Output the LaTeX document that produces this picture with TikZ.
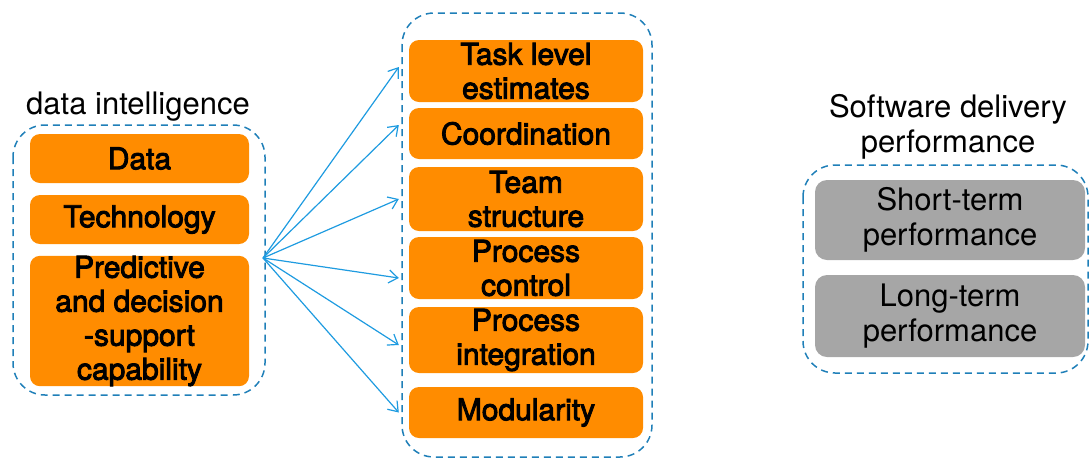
\documentclass[tikz,border=0pt]{standalone}
\usepackage{fontspec}
\setmainfont{TeX Gyre Heros}
\newfontfamily\heavyfont[FakeBold=3]{TeX Gyre Heros}
\usetikzlibrary{arrows.meta}
\definecolor{boxorange}{HTML}{FF8C00}
\definecolor{boxgray}{HTML}{A6A6A6}
\definecolor{groupblue}{HTML}{1F7FB8}
\definecolor{arrowblue}{HTML}{1E9BE0}
\tikzset{
  obox/.style={fill=boxorange, rounded corners=10pt, inner sep=0pt, align=center,
    font=\fontsize{30}{34}\selectfont\heavyfont},
  gbox/.style={fill=boxgray, rounded corners=12pt, inner sep=0pt, align=center,
    font=\fontsize{31}{35}\selectfont},
  group/.style={draw=groupblue, line width=1.5pt, dash pattern=on 7pt off 5pt,
    rounded corners=32pt},
  grouplabel/.style={align=center, font=\fontsize{31}{35}\selectfont},
  link/.style={draw=arrowblue, line width=1.2pt,
    -{Straight Barb[length=9pt,width=13pt,line width=1.2pt]}}
}
\begin{document}
\begin{tikzpicture}[x=1pt,y=-1pt]
\useasboundingbox (0,0) rectangle (1090,459);

% group frames
\draw[group] (13,125) rectangle (265,395);
\draw[group] (402,13) rectangle (652,457);
\draw[group] (803,165) rectangle (1088,373);

% group titles
\node[grouplabel] (ltitle) at (138,107) {data intelligence};
\node[grouplabel] (rtitle) at (948,127) {Software delivery\\performance};

% data intelligence
\node[obox, minimum width=219pt, minimum height=49pt] (data) at (139.5,158.5) {Data};
\node[obox, minimum width=219pt, minimum height=49pt] (tech) at (139.5,219.5) {Technology};
\node[obox, minimum width=219pt, minimum height=130pt] (pred) at (139.5,321)
  {Predictive\\and decision\\-support\\capability};

% coordination mechanisms
\node[obox, minimum width=234pt, minimum height=62pt] (task) at (526,71) {Task level\\estimates};
\node[obox, minimum width=234pt, minimum height=51pt] (coord) at (526,133.5) {Coordination};
\node[obox, minimum width=234pt, minimum height=64pt] (team) at (526,199) {Team\\structure};
\node[obox, minimum width=234pt, minimum height=62pt] (pctl) at (526,268) {Process\\control};
\node[obox, minimum width=234pt, minimum height=66pt] (pint) at (526,340) {Process\\integration};
\node[obox, minimum width=234pt, minimum height=51pt] (modu) at (526,412.5) {Modularity};

% delivery performance
\node[gbox, minimum width=270pt, minimum height=80pt] (short) at (950,220) {Short-term\\performance};
\node[gbox, minimum width=270pt, minimum height=82pt] (long) at (950,316) {Long-term\\performance};

% links
\coordinate (src) at (263,258);
\draw[link] (src) -- ([xshift=-10pt,yshift=4pt]task.west);
\draw[link] (src) -- ([xshift=-10pt,yshift=8.5pt]coord.west);
\draw[link] (src) -- ([xshift=-10pt]team.west);
\draw[link] (src) -- ([xshift=-10pt,yshift=-10pt]pctl.west);
\draw[link] (src) -- ([xshift=-10pt,yshift=-5pt]pint.west);
\draw[link] (src) -- ([xshift=-10pt]modu.west);
\end{tikzpicture}
\end{document}
